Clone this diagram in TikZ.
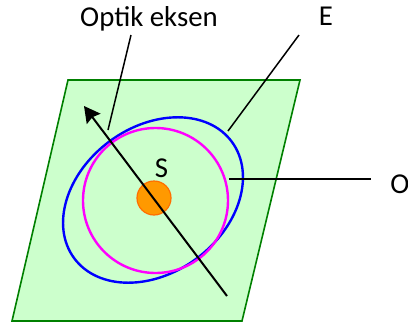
\documentclass[tikz,border=0pt]{standalone}
\usepackage{fontspec}
\setmainfont{Carlito}
\usepackage{xcolor}
\usetikzlibrary{arrows.meta}

\definecolor{planefill}{RGB}{204,255,204}
\definecolor{planeedge}{RGB}{0,128,0}
\definecolor{sunfill}{RGB}{255,153,0}
\definecolor{sunedge}{RGB}{255,110,0}
\definecolor{orbitblue}{RGB}{0,0,255}
\definecolor{orbitpink}{RGB}{255,0,255}

\begin{document}
\begin{tikzpicture}[x=0.5pt, y=-0.5pt, >={Stealth[length=8pt,width=8.5pt,inset=1pt]},
  font=\fontsize{14.4}{17}\selectfont]
\useasboundingbox (0,0) rectangle (408,327);

% Plane
\draw[draw=planeedge, fill=planefill, line width=0.8pt]
  (68,80) -- (300,80) -- (242,321) -- (12,321) -- cycle;

% Orbits
\draw[orbitblue, line width=1.2pt] (153,200) circle[x radius=49pt, y radius=36.5pt, rotate=36.5];
\draw[orbitpink, line width=1.2pt] (155.5,200.5) circle[radius=36.25pt];

% Sun
\node[circle, minimum size=17pt, inner sep=0pt, fill=sunfill, draw=sunedge, line width=0.6pt] (sun) at (154,198) {};
\node (s) at (161.5,168) {S};

% Optic axis
\coordinate (tail) at (227,296);
\coordinate (head) at (84,106);
\draw[->, line width=1pt] (tail) -- (head);

% Labels
\node (optik) at (149,18.5) {Optik eksen};
\node (e) at (326,16) {E};
\node[anchor=west, inner sep=0pt] (o) at (390,184) {O};

% Leaders
\coordinate (optik1) at (131,35);
\coordinate (optik2) at (108,130);
\coordinate (e1) at (299,35);
\coordinate (e2) at (228,131);
\coordinate (o1) at (229,179);
\coordinate (o2) at (371,179);
\draw[line width=0.75pt] (optik1) -- (optik2);
\draw[line width=0.75pt] (e1) -- (e2);
\draw[line width=0.75pt] (o1) -- (o2);
\end{tikzpicture}
\end{document}
